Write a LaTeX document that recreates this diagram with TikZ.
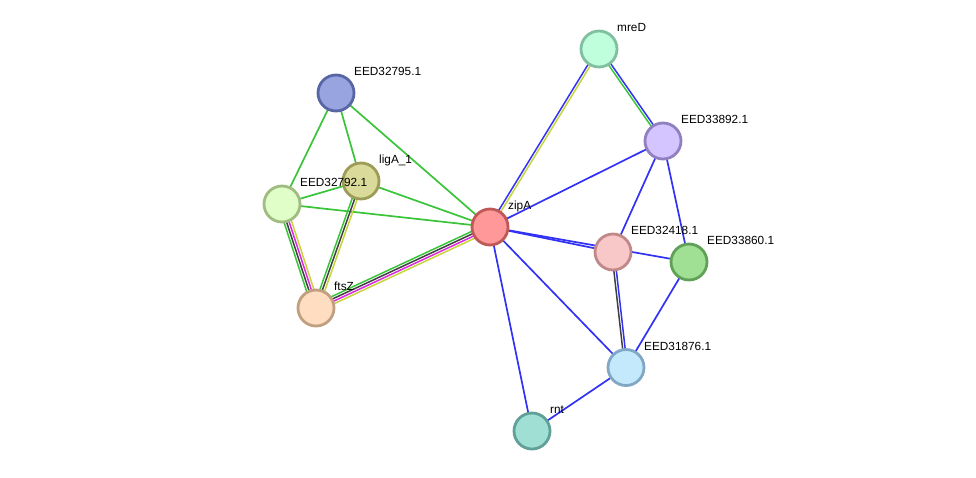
\documentclass[tikz,border=0pt]{standalone}
\usepackage{fontspec}
\setmainfont{Liberation Sans}
\usetikzlibrary{calc,backgrounds}
\definecolor{egreen}{RGB}{58,196,58}
\definecolor{eblue}{RGB}{50,50,245}
\definecolor{eyellow}{RGB}{200,212,60}
\definecolor{edark}{RGB}{64,64,64}
\definecolor{emag}{RGB}{222,40,222}
\tikzset{
  prot/.style={circle,minimum size=36pt,inner sep=0pt,line width=2.8pt},
  lbl/.style={anchor=base west,inner sep=0pt,font=\fontsize{11.8}{13}\selectfont},
  edge/.style={line width=1.7pt},
  medge/.style={line width=1.5pt},
}
\newcommand\strline[4]{\draw[medge,#4] ($(#1.center)!#3!90:(#2.center)$) -- ($(#2.center)!#3!-90:(#1.center)$);}
\begin{document}
\begin{tikzpicture}[x=1pt,y=1pt]
\useasboundingbox (0,0) rectangle (976,-477);
% nodes
\node[prot,fill={rgb,255:red,152;green,164;blue,224},draw={rgb,255:red,88;green,102;blue,166}] (n795) at (336,-93) {};
\node[prot,fill={rgb,255:red,218;green,218;blue,154},draw={rgb,255:red,156;green,156;blue,88}] (lig) at (361,-181) {};
\node[prot,fill={rgb,255:red,224;green,255;blue,200},draw={rgb,255:red,160;green,188;blue,128}] (n792) at (282,-204) {};
\node[prot,fill={rgb,255:red,255;green,221;blue,192},draw={rgb,255:red,192;green,160;blue,128}] (fts) at (316,-308) {};
\node[prot,fill={rgb,255:red,255;green,152;blue,152},draw={rgb,255:red,192;green,88;blue,88}] (zip) at (490,-227) {};
\node[prot,fill={rgb,255:red,192;green,255;blue,220},draw={rgb,255:red,128;green,192;blue,160}] (mre) at (599,-49) {};
\node[prot,fill={rgb,255:red,212;green,196;blue,255},draw={rgb,255:red,144;green,128;blue,192}] (n892) at (663,-141) {};
\node[prot,fill={rgb,255:red,248;green,200;blue,200},draw={rgb,255:red,192;green,136;blue,136}] (n418) at (613,-252) {};
\node[prot,fill={rgb,255:red,160;green,224;blue,148},draw={rgb,255:red,96;green,160;blue,88}] (n860) at (689,-262) {};
\node[prot,fill={rgb,255:red,196;green,232;blue,252},draw={rgb,255:red,128;green,168;blue,196}] (n876) at (626,-367.5) {};
\node[prot,fill={rgb,255:red,160;green,224;blue,212},draw={rgb,255:red,96;green,160;blue,152}] (rnt) at (532,-431) {};
% labels
\node[lbl] (t795) at ($(n795)+(18,17.5)$) {EED32795.1};
\node[lbl] (tlig) at ($(lig)+(18,17.5)$) {ligA\_1};
\node[lbl] (t792) at ($(n792)+(18,17.5)$) {EED32792.1};
\node[lbl] (tfts) at ($(fts)+(18,17.5)$) {ftsZ};
\node[lbl] (tzip) at ($(zip)+(18,17.5)$) {zipA};
\node[lbl] (tmre) at ($(mre)+(18,17.5)$) {mreD};
\node[lbl] (t892) at ($(n892)+(18,17.5)$) {EED33892.1};
\node[lbl] (t418) at ($(n418)+(18,17.5)$) {EED32418.1};
\node[lbl] (t860) at ($(n860)+(18,17.5)$) {EED33860.1};
\node[lbl] (t876) at ($(n876)+(18,17.5)$) {EED31876.1};
\node[lbl] (trnt) at ($(rnt)+(18,17.5)$) {rnt};
% edges
\begin{scope}[on background layer]
\draw[edge,egreen] (n795.center) -- (n792.center);
\draw[edge,egreen] (n795.center) -- (lig.center);
\draw[edge,egreen] (n795.center) -- (zip.center);
\draw[edge,egreen] (lig.center) -- (n792.center);
\draw[edge,egreen] (lig.center) -- (zip.center);
\draw[edge,egreen] (n792.center) -- (zip.center);
\strline{fts}{lig}{2.5pt}{egreen}
\strline{fts}{lig}{0pt}{edark}
\strline{fts}{lig}{-2.5pt}{eyellow}
\strline{fts}{n792}{3.75pt}{egreen}
\strline{fts}{n792}{1.25pt}{edark}
\strline{fts}{n792}{-1.25pt}{emag}
\strline{fts}{n792}{-3.75pt}{eyellow}
\strline{fts}{zip}{3.75pt}{egreen}
\strline{fts}{zip}{1.25pt}{edark}
\strline{fts}{zip}{-1.25pt}{emag}
\strline{fts}{zip}{-3.75pt}{eyellow}
\strline{zip}{mre}{1.25pt}{eblue}
\strline{zip}{mre}{-1.25pt}{eyellow}
\strline{mre}{n892}{1.25pt}{eblue}
\strline{mre}{n892}{-1.25pt}{egreen}
\strline{n418}{n876}{1.25pt}{eblue}
\strline{n418}{n876}{-1.25pt}{edark}
\draw[edge,eblue] (zip.center) -- (n892.center);
\draw[edge,eblue] (n892.center) -- (n418.center);
\draw[edge,eblue] (n892.center) -- (n860.center);
\draw[edge,eblue] (zip.center) -- (n418.center);
\draw[edge,eblue] (zip.center) -- (n860.center);
\draw[edge,eblue] (zip.center) -- (n876.center);
\draw[edge,eblue] (zip.center) -- (rnt.center);
\draw[edge,eblue] (n860.center) -- (n876.center);
\draw[edge,eblue] (n876.center) -- (rnt.center);
\end{scope}
\end{tikzpicture}
\end{document}
